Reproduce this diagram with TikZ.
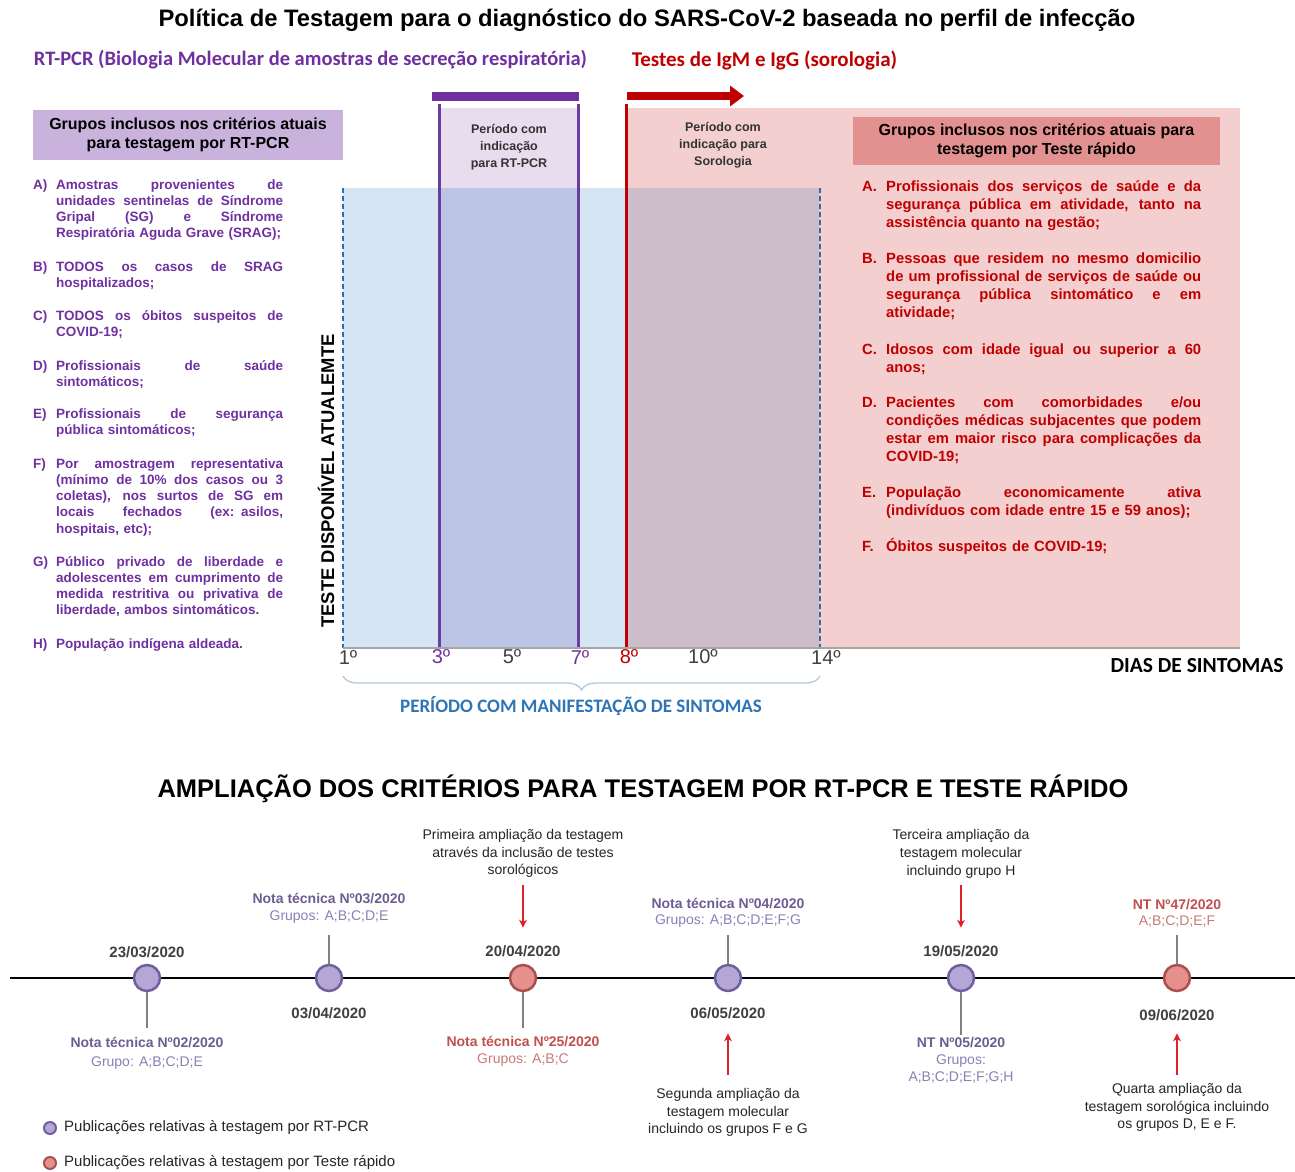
\documentclass[tikz,border=0pt]{standalone}
\usepackage{fontspec}
\setmainfont{Liberation Sans}
\newfontfamily\calfont{Carlito}
\usetikzlibrary{arrows.meta,decorations.pathreplacing}
\definecolor{ptxt}{HTML}{7030A0}
\definecolor{rtxt}{HTML}{C00000}
\definecolor{blueA}{HTML}{D5E5F4}
\definecolor{lavA}{HTML}{E8DCEF}
\definecolor{ovPB}{HTML}{BDC5E6}
\definecolor{pinkA}{HTML}{F3CFCF}
\definecolor{ovRB}{HTML}{CDBDCB}
\definecolor{lboxC}{HTML}{C9B2DC}
\definecolor{rboxC}{HTML}{E39190}
\definecolor{dashB}{HTML}{2F6DAD}
\definecolor{pline}{HTML}{6A3EA0}
\definecolor{capB}{HTML}{2E75B6}
\definecolor{braceC}{HTML}{B5C8DA}
\definecolor{axC}{HTML}{404040}
\definecolor{cpF}{HTML}{B4A7D6}
\definecolor{cpD}{HTML}{6F5F9E}
\definecolor{crF}{HTML}{E6908D}
\definecolor{crD}{HTML}{A8504E}
\definecolor{npD}{HTML}{6E5D92}
\definecolor{npL}{HTML}{8C7FB5}
\definecolor{nrD}{HTML}{C0504D}
\definecolor{nrL}{HTML}{C97B78}
\definecolor{arrR}{HTML}{E0202A}
\newcommand\jl[1]{\noindent\hbox to 227pt{\spaceskip=0.278em plus 1fil\relax #1}\\}
\newcommand\jr[1]{\noindent\hbox to 315pt{\spaceskip=0.278em plus 1fil\relax #1}\\}
\begin{document}
\begin{tikzpicture}[x=1pt,y=-1pt,
  ltx/.style={anchor=base west,inner sep=0pt,text width=227pt,align=left,font=\fontsize{13.5}{16.3}\selectfont\bfseries,text=ptxt},
  llb/.style={anchor=base west,inner sep=0pt,font=\fontsize{13.5}{16.3}\selectfont\bfseries,text=ptxt},
  rtx/.style={anchor=base west,inner sep=0pt,text width=315pt,align=left,font=\fontsize{14.8}{18.2}\selectfont\bfseries,text=rtxt},
  rlb/.style={anchor=base west,inner sep=0pt,font=\fontsize{14.8}{18.2}\selectfont\bfseries,text=rtxt},
  axl/.style={inner sep=0pt,font=\fontsize{20}{22}\selectfont,text=axC},
  pcirc/.style={circle,minimum size=26pt,inner sep=0pt,fill=cpF,draw=cpD,line width=2.5pt},
  rcirc/.style={circle,minimum size=26pt,inner sep=0pt,fill=crF,draw=crD,line width=2.5pt},
  datel/.style={inner sep=0pt,font=\fontsize{15}{17}\selectfont\bfseries,text=axC},
  pnote/.style={inner sep=0pt,align=center,font=\fontsize{14}{17}\selectfont,text=npD},
  rnote/.style={inner sep=0pt,align=center,font=\fontsize{14}{17}\selectfont,text=nrD},
  annot/.style={inner sep=0pt,align=center,font=\fontsize{14}{17.5}\selectfont,text=black!85},
  stemline/.style={draw=gray,line width=1.5pt},
  rarrow/.style={draw=arrR,line width=1.8pt,-{Stealth[length=8pt,width=8pt]}},
]
\useasboundingbox (0,0) rectangle (1295,1171);
\fill[white] (0,0) rectangle (1295,1171);

% ---------- top chart areas
\fill[blueA] (343,188) rectangle (820,648);
\fill[lavA] (439,108) rectangle (578,188);
\fill[ovPB] (439,188) rectangle (578,648);
\fill[pinkA] (626,108) rectangle (1240,648);
\fill[ovRB] (626,188) rectangle (820,648);
\draw[dashB,line width=1.5pt,dash pattern=on 5pt off 3pt] (343,188) -- (343,648);
\draw[dashB,line width=1.5pt,dash pattern=on 5pt off 3pt] (820,188) -- (820,648);
\draw[pline,line width=3pt] (439,104) -- (439,648);
\draw[pline,line width=3pt] (578,104) -- (578,648);
\draw[rtxt,line width=3pt] (626,104) -- (626,648);
\fill[ptxt] (432,92) rectangle (579,101);
\draw[rtxt,line width=8pt,-{Triangle[length=14pt,width=20pt]}] (627,96) -- (744,96);
\draw[gray!70,line width=2pt] (343,648) -- (1240,648);

% ---------- titles and headers
\node[inner sep=0pt,font=\fontsize{23.8}{28}\selectfont\bfseries] (title) at (647,20) {Política de Testagem para o diagnóstico do SARS-CoV-2 baseada no perfil de infecção};
\node[inner sep=0pt,font=\calfont\fontsize{20.5}{24}\selectfont\bfseries,text=ptxt] (hpcr) at (310.5,60) {RT-PCR (Biologia Molecular de amostras de secreção respiratória)};
\node[inner sep=0pt,font=\calfont\fontsize{21}{24}\selectfont\bfseries,text=rtxt] (hsor) at (764.5,60) {Testes de IgM e IgG (sorologia)};

\node[fill=lboxC,minimum width=310pt,minimum height=50pt,inner sep=0pt,align=center,font=\fontsize{16}{19}\selectfont\bfseries] (lhead) at (188,135) {Grupos inclusos nos critérios atuais\\para testagem por RT-PCR};
\node[fill=rboxC,minimum width=367pt,minimum height=48pt,inner sep=0pt,align=center,font=\fontsize{16}{19}\selectfont\bfseries] (rhead) at (1036.5,141) {Grupos inclusos nos critérios atuais para\\testagem por Teste rápido};

\node[inner sep=0pt,align=center,font=\fontsize{12.5}{17}\selectfont\bfseries,text=black!80] (ppcr) at (509,147) {Período com\\indicação\\para RT-PCR};
\node[inner sep=0pt,align=center,font=\fontsize{12.5}{17}\selectfont\bfseries,text=black!80] (psor) at (723,145) {Período com\\indicação para\\Sorologia};

% ---------- left list
\node[llb] (la) at (33,189) {A)};
\node[ltx] (ta) at (56,189) {\jl{Amostras provenientes de}\jl{unidades sentinelas de Síndrome}\jl{Gripal (SG) e Síndrome}Respiratória Aguda Grave (SRAG);};
\node[llb] (lb) at (33,271) {B)};
\node[ltx] (tb) at (56,271) {\jl{TODOS os casos de SRAG}hospitalizados;};
\node[llb] (lc) at (33,320) {C)};
\node[ltx] (tc) at (56,320) {\jl{TODOS os óbitos suspeitos de}COVID-19;};
\node[llb] (ld) at (33,370) {D)};
\node[ltx] (td) at (56,370) {\jl{Profissionais de saúde}sintomáticos;};
\node[llb] (le) at (33,418) {E)};
\node[ltx] (te) at (56,418) {\jl{Profissionais de segurança}pública sintomáticos;};
\node[llb] (lf) at (33,468) {F)};
\node[ltx] (tf) at (56,468) {\jl{Por amostragem representativa}\jl{(mínimo de 10\% dos casos ou 3}\jl{coletas), nos surtos de SG em}\jl{locais fechados (ex: asilos,}hospitais, etc);};
\node[llb] (lg) at (33,566) {G)};
\node[ltx] (tg) at (56,566) {\jl{Público privado de liberdade e}\jl{adolescentes em cumprimento de}\jl{medida restritiva ou privativa de}liberdade, ambos sintomáticos.};
\node[llb] (lh) at (33,648) {H)};
\node[ltx] (th) at (56,648) {População indígena aldeada.};

% ---------- right list
\node[rlb] (ra) at (862,191) {A.};
\node[rtx] (sa) at (886,191) {\jr{Profissionais dos serviços de saúde e da}\jr{segurança pública em atividade, tanto na}assistência quanto na gestão;};
\node[rlb] (rb) at (862,263) {B.};
\node[rtx] (sb) at (886,263) {\jr{Pessoas que residem no mesmo domicilio}\jr{de um profissional de serviços de saúde ou}\jr{segurança pública sintomático e em}atividade;};
\node[rlb] (rc) at (862,354) {C.};
\node[rtx] (sc) at (886,354) {\jr{Idosos com idade igual ou superior a 60}anos;};
\node[rlb] (rd) at (862,407) {D.};
\node[rtx] (sd) at (886,407) {\jr{Pacientes com comorbidades e/ou}\jr{condições médicas subjacentes que podem}\jr{estar em maior risco para complicações da}COVID-19;};
\node[rlb] (re) at (862,497) {E.};
\node[rtx] (se) at (886,497) {\jr{População economicamente ativa}(indivíduos com idade entre 15 e 59 anos);};
\node[rlb] (rf) at (862,551) {F.};
\node[rtx] (sf) at (886,551) {Óbitos suspeitos de COVID-19;};

% ---------- axis
\node[rotate=90,inner sep=0pt,font=\fontsize{18.4}{21}\selectfont\bfseries] (vlab) at (326,481) {TESTE DISPONÍVEL ATUALEMTE};
\node[axl] (x1) at (348,657) {1º};
\node[axl,text=ptxt] (x3) at (441,657) {3º};
\node[axl] (x5) at (512,657) {5º};
\node[axl,text=ptxt] (x7) at (580,657) {7º};
\node[axl,text=rtxt] (x8) at (629,657) {8º};
\node[axl] (x10) at (703,657) {10º};
\node[axl] (x14) at (826,657) {14º};
\draw[braceC,line width=1.3pt,decorate,decoration={brace,amplitude=14pt}] (820,676) -- (343,676);
\node[inner sep=0pt,font=\calfont\fontsize{19}{22}\selectfont\bfseries,text=capB] (per) at (581,706) {PERÍODO COM MANIFESTAÇÃO DE SINTOMAS};
\node[inner sep=0pt,font=\calfont\fontsize{21.5}{24}\selectfont\bfseries] (dias) at (1197,666) {DIAS DE SINTOMAS};

% ---------- timeline
\node[inner sep=0pt,font=\fontsize{25.5}{30}\selectfont\bfseries] (title2) at (643,789) {AMPLIAÇÃO DOS CRITÉRIOS PARA TESTAGEM POR RT-PCR E TESTE RÁPIDO};
\coordinate (tlL) at (10,978);
\coordinate (tlR) at (1295,978);
\draw[black,line width=2.5pt] (tlL) -- (tlR);

\node[pcirc] (c1) at (147,978) {};
\node[pcirc] (c2) at (329,978) {};
\node[rcirc] (c3) at (523,978) {};
\node[pcirc] (c4) at (728,978) {};
\node[pcirc] (c5) at (961,978) {};
\node[rcirc] (c6) at (1177,978) {};

\node[datel] (d1) at (147,952) {23/03/2020};
\node[datel] (d2) at (329,1013) {03/04/2020};
\node[datel] (d3) at (523,951) {20/04/2020};
\node[datel] (d4) at (728,1013) {06/05/2020};
\node[datel] (d5) at (961,951) {19/05/2020};
\node[datel] (d6) at (1177,1015) {09/06/2020};

\node[pnote,font=\fontsize{14}{19}\selectfont] (n1) at (147,1053) {\textbf{Nota técnica Nº02/2020}\\\textcolor{npL}{Grupo: A;B;C;D;E}};
\node[pnote] (n2) at (329,908.5) {\textbf{Nota técnica Nº03/2020}\\\textcolor{npL}{Grupos: A;B;C;D;E}};
\node[rnote] (n3) at (523,1051.5) {\textbf{Nota técnica Nº25/2020}\\\textcolor{nrL}{Grupos: A;B;C}};
\node[pnote,font=\fontsize{14}{16}\selectfont] (n4) at (728,913) {\textbf{Nota técnica Nº04/2020}\\\textcolor{npL}{Grupos: A;B;C;D;E;F;G}};
\node[pnote] (n5) at (961,1060) {\textbf{NT Nº05/2020}\\\textcolor{npL}{Grupos:}\\\textcolor{npL}{A;B;C;D;E;F;G;H}};
\node[rnote,font=\fontsize{14}{16}\selectfont] (n6) at (1177,913) {\textbf{NT Nº47/2020}\\\textcolor{nrL}{A;B;C;D;E;F}};

\draw[stemline,shorten >=9pt] (c1.south) -- (n1.north);
\draw[stemline,shorten >=11.5pt] (c2.north) -- (n2.south);
\draw[stemline,shorten >=8.5pt] (c3.south) -- (n3.north);
\draw[stemline,shorten >=7.5pt] (c4.north) -- (n4.south);
\draw[stemline,shorten >=1.5pt] (c5.south) -- (n5.north);
\draw[stemline,shorten >=7.5pt] (c6.north) -- (n6.south);

\node[annot] (a1) at (523,853.5) {Primeira ampliação da testagem\\através da inclusão de testes\\sorológicos};
\node[annot] (a4) at (728,1112.5) {Segunda ampliação da\\testagem molecular\\incluindo os grupos F e G};
\node[annot,font=\fontsize{14}{18}\selectfont] (a5) at (961,854) {Terceira ampliação da\\testagem molecular\\incluindo grupo H};
\node[annot] (a6) at (1177,1107.5) {Quarta ampliação da\\testagem sorológica incluindo\\os grupos D, E e F.};

\draw[rarrow,shorten <=7.5pt,shorten >=17.6pt] (a1.south) -- (d3.north);
\draw[rarrow,shorten <=13.5pt,shorten >=14.6pt] (a4.north) -- (d4.south);
\draw[rarrow,shorten <=6.5pt,shorten >=17.6pt] (a5.south) -- (d5.north);
\draw[rarrow,shorten <=8.5pt,shorten >=12.6pt] (a6.north) -- (d6.south);

% ---------- legend
\node[circle,minimum size=12pt,inner sep=0pt,fill=cpF,draw=cpD,line width=2pt] (lg1) at (50,1128) {};
\node[anchor=west,inner sep=0pt,font=\fontsize{15}{18}\selectfont,text=black!85] (lt1) at (64,1128) {Publicações relativas à testagem por RT-PCR};
\node[circle,minimum size=12pt,inner sep=0pt,fill=crF,draw=crD,line width=2pt] (lg2) at (50,1163) {};
\node[anchor=west,inner sep=0pt,font=\fontsize{15}{18}\selectfont,text=black!85] (lt2) at (64,1163) {Publicações relativas à testagem por Teste rápido};
\end{tikzpicture}
\end{document}
